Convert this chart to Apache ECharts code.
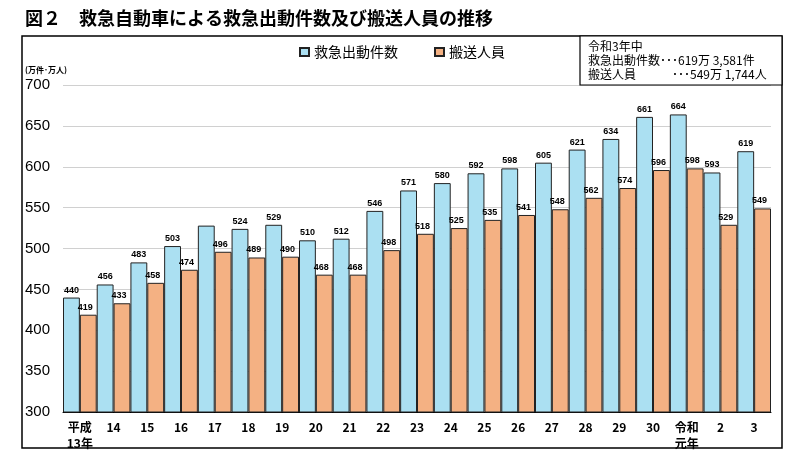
<!DOCTYPE html>
<html><head><meta charset="utf-8">
<script src="https://cdn.jsdelivr.net/npm/echarts@6/dist/echarts.min.js"></script>
<style>html,body{margin:0;padding:0;background:#fff}#c{width:800px;height:460px}</style>
</head><body><div id="c"></div>
<script>
const categories = ['平成\n13年','14','15','16','17','18','19','20','21','22','23','24','25','26','27','28','29','30','令和\n元年','2','3'];
const dispatches = [440,456,483,503,528,524,529,510,512,546,571,580,592,598,605,621,634,661,664,593,619];
const transported = [419,433,458,474,496,489,490,468,468,498,518,525,535,541,548,562,574,596,598,529,549];
const hiddenLabelIndex = [4];
const yTicks = {min:300, max:700, interval:50};

const jp = '"Noto Sans CJK JP", sans-serif';
const num = '"Liberation Sans", Arial, sans-serif';
const chart = echarts.init(document.getElementById('c'), null, {renderer:'canvas'});
chart.setOption({
  animation:false,
  backgroundColor:'#fff',
  title:{text:'図２　救急自動車による救急出動件数及び搬送人員の推移', left:20, top:4,
    textStyle:{fontFamily:jp, fontSize:18, fontWeight:'bold', color:'#000'}},
  legend:{data:['救急出動件数','搬送人員'], left:294, top:40, icon:'rect', itemWidth:9, itemHeight:8, itemGap:36,
    textStyle:{fontFamily:jp, fontSize:14, color:'#000'}},
  grid:{left:63, right:29, top:85, bottom:48},
  xAxis:{type:'category', data:categories,
    axisLine:{show:true, lineStyle:{color:'#000', width:1}}, axisTick:{show:false},
    axisLabel:{interval:0, margin:7, fontFamily:jp, fontSize:12, fontWeight:'bold', color:'#000', lineHeight:16, verticalAlign:'top'}},
  yAxis:{type:'value', min:yTicks.min, max:yTicks.max, interval:yTicks.interval,
    axisLine:{show:false}, axisTick:{show:false},
    splitLine:{lineStyle:{color:'#d0d0d0', width:1}},
    axisLabel:{align:'left', margin:38, fontFamily:num, fontSize:15, color:'#000'}},
  series:[
    {name:'救急出動件数', type:'bar', barGap:'0%', barCategoryGap:'0%',
     data:dispatches.map((v,i)=> hiddenLabelIndex.includes(i) ? {value:v, label:{show:false}} : v),
     itemStyle:{color:'#ABE0F2', borderColor:'#222', borderWidth:1},
     label:{show:true, position:'top', distance:3, fontFamily:num, fontSize:9, fontWeight:'bold', color:'#000'}},
    {name:'搬送人員', type:'bar', barGap:'0%', barCategoryGap:'0%',
     data:transported,
     itemStyle:{color:'#F4B183', borderColor:'#222', borderWidth:1},
     label:{show:true, position:'top', distance:3, offset:[-3,0], fontFamily:num, fontSize:9, fontWeight:'bold', color:'#000'}}
  ],
  graphic:[
    {type:'rect', shape:{x:22, y:36, width:760, height:412}, style:{fill:null, stroke:'#000', lineWidth:1.5}, z:100},
    {type:'rect', shape:{x:580, y:36, width:202, height:49}, style:{fill:'#fff', stroke:'#000', lineWidth:1.2}, z:101},
    {type:'text', left:588, top:39, z:102, style:{text:'令和3年中\n救急出動件数･･･619万 3,581件\n搬送人員　　　･･･549万 1,744人', font:'12px "Noto Sans CJK JP"', lineHeight:14, fill:'#000'}},
    {type:'text', left:25, top:66, z:102, style:{text:'(万件･万人)', font:'bold 8px "Noto Sans CJK JP"', fill:'#000'}}
  ]
});
</script></body></html>
